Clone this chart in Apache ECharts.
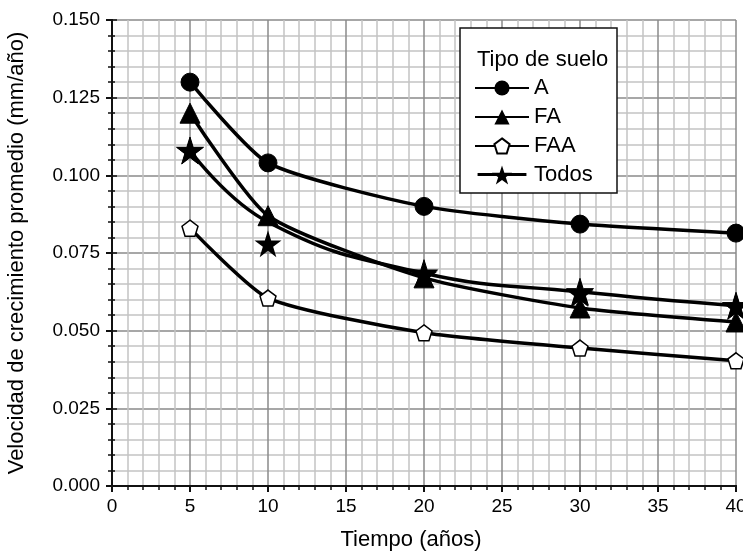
<!DOCTYPE html>
<html>
<head>
<meta charset="utf-8">
<script src="https://cdn.jsdelivr.net/npm/echarts@6/dist/echarts.min.js"></script>
<style>
  html, body { margin: 0; padding: 0; background: #fff; }
  #main { width: 743px; height: 554px; }
</style>
</head>
<body>
<div id="main"></div>
<script>
// valores
var years = [5, 10, 20, 30, 40];
var serieA = [0.130, 0.104, 0.090, 0.0843, 0.0814];
var serieFA = [0.120, 0.087, 0.067, 0.0573, 0.0528];
var serieFAA = [0.083, 0.0605, 0.0493, 0.0444, 0.0403];
var todosPuntos = [0.108, 0.078, 0.068, 0.062, 0.058];
var todosCurva = [0.108, 0.085, 0.0685, 0.0625, 0.058];
var yTicks = ['0.000', '0.025', '0.050', '0.075', '0.100', '0.125', '0.150'];

var starPath = 'path://M50,0 L61.8,36.3 L100,36.3 L69.1,58.8 L80.9,95.1 L50,72.6 L19.1,95.1 L30.9,58.8 L0,36.3 L38.2,36.3 Z';
var pentPath = 'path://M50,0 L97.6,34.5 L79.4,90.5 L20.6,90.5 L2.4,34.5 Z';
// icono de leyenda: linea + estrella grande (caja 54 x 20)
var todosIcon = 'path://M0,8.3 L54,8.3 L54,11.7 L0,11.7 Z ' +
    'M27,0 L29.6,8 L38.1,8 L31.2,13 L33.8,21 L27,16 L20.2,21 L22.8,13 L15.9,8 L24.4,8 Z';

function pairs(xs, ys) {
    return xs.map(function (x, i) { return [x, ys[i]]; });
}

var font = 'Liberation Sans, Arial, sans-serif';
var myChart = echarts.init(document.getElementById('main'));

var lineBase = {
    type: 'line',
    smooth: 0.2,
    clip: false,
    lineStyle: { color: '#000', width: 3.5 },
    itemStyle: { color: '#000', borderColor: '#000' },
    z: 5
};

var option = {
    backgroundColor: '#fff',
    animation: false,
    grid: { left: 112, right: 7, top: 20, bottom: 68, outerBoundsMode: 'none', containLabel: false },
    xAxis: [{
        type: 'value',
        min: 0, max: 40, interval: 5,
        name: 'Tiempo (años)',
        nameLocation: 'middle',
        nameGap: 43,
        nameTextStyle: { fontFamily: font, fontSize: 22, color: '#000', padding: [0, 0, 0, -26] },
        axisLine: { onZero: false, lineStyle: { color: '#111', width: 2 } },
        axisTick: { show: true, length: 6, lineStyle: { color: '#111', width: 2 } },
        minorTick: { show: true, splitNumber: 5, length: 4, lineStyle: { color: '#111', width: 1.5 } },
        axisLabel: { fontFamily: font, fontSize: 19, color: '#000', margin: 11 },
        splitLine: { show: true, lineStyle: { color: '#8a8a8a', width: 1.5 } },
        minorSplitLine: { show: true, lineStyle: { color: '#c4c4c4', width: 1.5 } }
    }, {
        type: 'value', position: 'top',
        min: 0, max: 40, interval: 5,
        axisLine: { show: true, lineStyle: { color: '#111', width: 2 } },
        axisTick: { show: false },
        axisLabel: { show: false },
        splitLine: { show: false }
    }],
    yAxis: [{
        type: 'value',
        min: 0, max: 0.15, interval: 0.025,
        name: 'Velocidad de crecimiento promedio (mm/año)',
        nameLocation: 'middle',
        nameGap: 84,
        nameTextStyle: { fontFamily: font, fontSize: 22, color: '#000' },
        axisLine: { show: true, onZero: false, lineStyle: { color: '#111', width: 2 } },
        axisTick: { show: true, length: 6, lineStyle: { color: '#111', width: 2 } },
        minorTick: { show: true, splitNumber: 5, length: 4, lineStyle: { color: '#111', width: 1.5 } },
        axisLabel: {
            fontFamily: font, fontSize: 19, color: '#000', margin: 12,
            formatter: function (v) { return yTicks[Math.round(v / 0.025)]; }
        },
        splitLine: { show: true, lineStyle: { color: '#8a8a8a', width: 1.5 } },
        minorSplitLine: { show: true, lineStyle: { color: '#c4c4c4', width: 1.5 } }
    }, {
        type: 'value', position: 'right',
        min: 0, max: 0.15, interval: 0.025,
        axisLine: { show: true, lineStyle: { color: '#111', width: 2 } },
        axisTick: { show: true, inside: false, length: 5, lineStyle: { color: '#111', width: 1.5 } },
        minorTick: { show: true, splitNumber: 5, length: 3, lineStyle: { color: '#111', width: 1.5 } },
        axisLabel: { show: false },
        splitLine: { show: false }
    }],
    legend: {
        orient: 'vertical',
        left: 469, top: 72,
        z: 12,
        itemWidth: 54, itemHeight: 19, itemGap: 7,
        textStyle: { fontFamily: font, fontSize: 22, lineHeight: 22, color: '#000' },
        data: ['A', 'FA', 'FAA', { name: 'Todos', icon: todosIcon }]
    },
    graphic: [{
        type: 'rect',
        shape: { x: 460, y: 28, width: 157, height: 165 },
        style: { fill: '#fff', stroke: '#111', lineWidth: 1.5 },
        z: 10
    }, {
        type: 'text',
        x: 477, y: 60,
        style: { text: 'Tipo de suelo', font: '22px ' + font, fill: '#000', textVerticalAlign: 'middle' },
        z: 11
    }],
    series: [
        Object.assign({}, lineBase, {
            name: 'A', data: pairs(years, serieA),
            symbol: 'circle', symbolSize: 18
        }),
        Object.assign({}, lineBase, {
            name: 'FA', data: pairs(years, serieFA),
            symbol: 'triangle', symbolSize: 20
        }),
        Object.assign({}, lineBase, {
            name: 'FAA', data: pairs(years, serieFAA),
            symbol: pentPath, symbolSize: 16,
            itemStyle: { color: '#fff', borderColor: '#000', borderWidth: 1.5 }
        }),
        Object.assign({}, lineBase, {
            name: 'Todos', data: pairs(years, todosCurva),
            smooth: 0.45,
            symbol: starPath,
            symbolSize: function (v, p) { return p.dataIndex === 1 ? 0 : 27; }
        }),
        {
            type: 'scatter', name: 'TodosPuntos',
            data: pairs(years, todosPuntos),
            symbol: starPath, symbolSize: 27,
            itemStyle: { color: '#000', opacity: 1 },
            clip: false, z: 6
        }
    ]
};
myChart.setOption(option);
</script>
</body>
</html>
